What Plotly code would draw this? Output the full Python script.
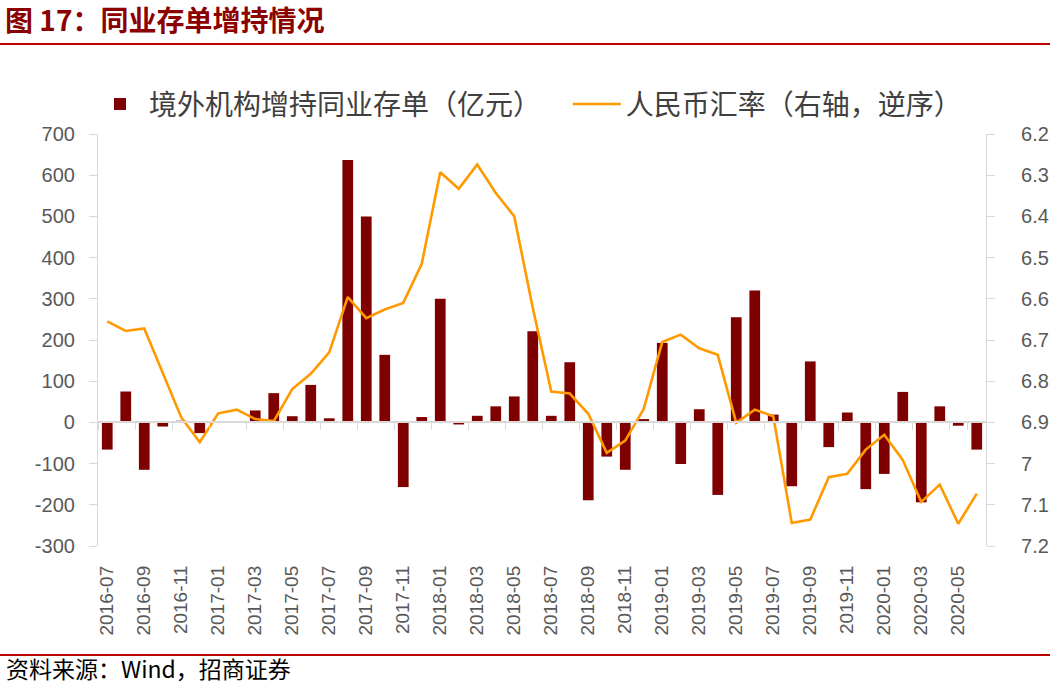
import plotly.graph_objects as go

months = [
    "2016-07", "2016-08", "2016-09", "2016-10", "2016-11", "2016-12",
    "2017-01", "2017-02", "2017-03", "2017-04", "2017-05", "2017-06",
    "2017-07", "2017-08", "2017-09", "2017-10", "2017-11", "2017-12",
    "2018-01", "2018-02", "2018-03", "2018-04", "2018-05", "2018-06",
    "2018-07", "2018-08", "2018-09", "2018-10", "2018-11", "2018-12",
    "2019-01", "2019-02", "2019-03", "2019-04", "2019-05", "2019-06",
    "2019-07", "2019-08", "2019-09", "2019-10", "2019-11", "2019-12",
    "2020-01", "2020-02", "2020-03", "2020-04", "2020-05", "2020-06",
]

ncd_increase = [
    -66, 75, -115, -10, 4, -26,
    1, 1, 29, 71, 15, 91, 10, 637, 500, 164, -157, 13,
    300, -5, 16, 39, 63, 221, 16, 146, -189, -83, -115, 8,
    193, -101, 32, -176, 255, 320, 19, -155, 148, -60, 24, -162,
    -125, 74, -194, 39, -8, -66,
]

usdcny = [
    6.655, 6.678, 6.672, 6.780, 6.888, 6.948,
    6.878, 6.869, 6.892, 6.897, 6.819, 6.782, 6.730, 6.596, 6.647, 6.626, 6.610, 6.515,
    6.293, 6.333, 6.274, 6.343, 6.400, 6.622, 6.825, 6.830, 6.879, 6.974, 6.944, 6.867,
    6.705, 6.687, 6.720, 6.736, 6.901, 6.869, 6.885, 7.144, 7.136, 7.033, 7.025, 6.966,
    6.930, 6.991, 7.093, 7.051, 7.146, 7.073,
]

left_ticks = [700, 600, 500, 400, 300, 200, 100, 0, -100, -200, -300]
right_ticks = [6.2, 6.3, 6.4, 6.5, 6.6, 6.7, 6.8, 6.9, 7.0, 7.1, 7.2]
x_labels = months[::2]

title_text = "图 <b>17</b>：同业存单增持情况"
source_text = "资料来源：Wind，招商证券"
bar_name = "境外机构增持同业存单（亿元）"
line_name = "人民币汇率（右轴，逆序）"

BAR_COLOR = "#7F0000"
LINE_COLOR = "#FF9900"
AXIS_COLOR = "#D9D9D9"
TICK_FONT_COLOR = "#595959"
RED = "#C00000"
NUM_FONT = "Liberation Sans, Arial, sans-serif"
CJK_FONT = "Noto Sans CJK SC, sans-serif"

fig = go.Figure()
fig.add_trace(go.Bar(
    x=months, y=ncd_increase, name=bar_name,
    marker=dict(color=BAR_COLOR, line=dict(width=0)),
    xaxis="x", yaxis="y", legend="legend",
))
fig.add_trace(go.Scatter(
    x=months, y=usdcny, name=line_name, mode="lines",
    line=dict(color=LINE_COLOR, width=2.6),
    xaxis="x", yaxis="y2", legend="legend2",
))
# invisible trace on the zero-line axis (carries tick marks at y=0)
fig.add_trace(go.Scatter(
    x=months, y=[None] * len(months), showlegend=False, hoverinfo="skip",
    xaxis="x2", yaxis="y",
))

zero_pos = (0 - left_ticks[-1]) / (left_ticks[0] - left_ticks[-1])
legend_font = dict(family=CJK_FONT, size=28, color="#404040")

fig.update_layout(
    width=1050, height=686,
    margin=dict(l=98, r=64, t=134, b=140, autoexpand=False),
    paper_bgcolor="white", plot_bgcolor="white",
    bargap=0.42,
    showlegend=True,
    legend=dict(
        orientation="h", x=-0.0079, y=1.072, xanchor="left", yanchor="middle",
        font=legend_font, itemwidth=48, bgcolor="rgba(0,0,0,0)",
    ),
    legend2=dict(
        orientation="h", x=0.529, y=1.072, xanchor="left", yanchor="middle",
        font=legend_font, itemwidth=48, bgcolor="rgba(0,0,0,0)",
    ),
    xaxis=dict(
        type="category", categoryorder="array", categoryarray=months,
        tickmode="array", tickvals=x_labels, ticktext=x_labels,
        tickangle=-90, showline=False, ticks="", showgrid=False, zeroline=False,
        tickfont=dict(family=NUM_FONT, size=19, color=TICK_FONT_COLOR),
        ticklabelstandoff=15,
    ),
    xaxis2=dict(
        type="category", overlaying="x", matches="x", anchor="free", position=zero_pos,
        categoryorder="array", categoryarray=months,
        tickmode="array", tickvals=x_labels, ticktext=["" for _ in x_labels],
        tickson="boundaries", ticks="outside", ticklen=7, tickcolor=AXIS_COLOR,
        showline=True, linecolor=AXIS_COLOR, linewidth=1.5,
        showgrid=False, zeroline=False, showticklabels=False,
    ),
    yaxis=dict(
        range=[left_ticks[-1], left_ticks[0]],
        tickmode="array", tickvals=left_ticks, ticktext=[str(v) for v in left_ticks],
        showline=True, linecolor=AXIS_COLOR, linewidth=1.2,
        ticks="outside", ticklen=8, tickcolor=AXIS_COLOR,
        showgrid=False, zeroline=False,
        tickfont=dict(family=NUM_FONT, size=20, color=TICK_FONT_COLOR),
        ticklabelstandoff=10,
    ),
    yaxis2=dict(
        overlaying="y", side="right", anchor="x",
        range=[right_ticks[-1], right_ticks[0]],
        tickmode="array", tickvals=right_ticks,
        ticktext=[("%g" % v) for v in right_ticks],
        showline=True, linecolor=AXIS_COLOR, linewidth=1.2,
        ticks="outside", ticklen=8, tickcolor=AXIS_COLOR,
        showgrid=False, zeroline=False,
        tickfont=dict(family=NUM_FONT, size=20, color=TICK_FONT_COLOR),
        ticklabelstandoff=22,
    ),
    annotations=[
        dict(text=title_text, xref="paper", yref="paper", x=-0.107, y=1.279,
             xanchor="left", yanchor="middle", showarrow=False,
             font=dict(family=CJK_FONT, size=28, color="#8B0000", weight="bold")),
        dict(text=source_text, xref="paper", yref="paper", x=-0.106, y=-0.296,
             xanchor="left", yanchor="middle", showarrow=False,
             font=dict(family=CJK_FONT, size=23, color="#000000")),
    ],
    shapes=[
        dict(type="line", xref="paper", yref="paper", x0=-0.1104, x1=1.0721,
             y0=1.2184, y1=1.2184, line=dict(color=RED, width=2)),
        dict(type="line", xref="paper", yref="paper", x0=-0.1104, x1=1.0721,
             y0=-0.2646, y1=-0.2646, line=dict(color=RED, width=2)),
    ],
)

fig.write_html(
    "out.html",
    config={"displayModeBar": False},
    post_script="document.body.style.margin='0';document.body.style.padding='0';",
)
